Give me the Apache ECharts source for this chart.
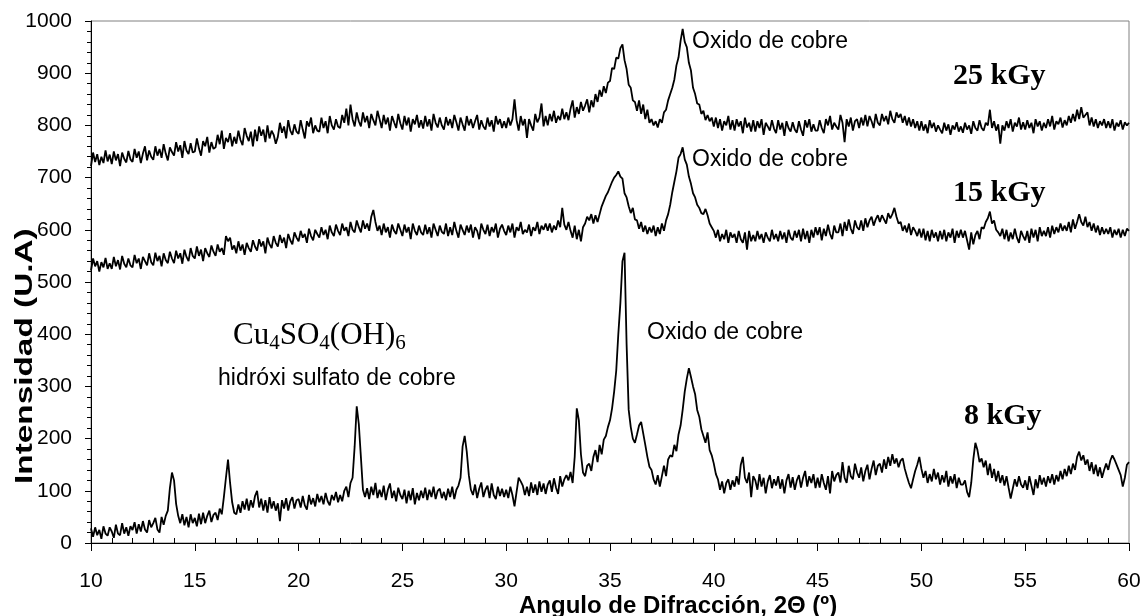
<!DOCTYPE html>
<html>
<head>
<meta charset="utf-8">
<script src="https://cdn.jsdelivr.net/npm/echarts@6/dist/echarts.min.js"></script>
<style>html,body{margin:0;padding:0;background:#fff;}#c{width:1145px;height:616px;}</style>
</head>
<body>
<div id="c"></div>
<script>
// Diffraction angle grid (2Θ, degrees): first angle and step of the scan
const ANGLE_START = 10;
const ANGLE_STEP = 0.1;

// Intensity (U.A), one row per degree (10.0 ... 59.9), last value at 60.0
const int25kGy = [
722,748,730,745,724,740,728,752,731,744,
726,750,733,745,722,748,736,729,751,735,
730,755,738,750,728,746,760,733,752,740,
734,760,742,755,738,764,746,733,758,749,
742,768,750,762,738,770,752,745,766,748,
750,775,756,742,770,760,778,748,768,755,
758,782,764,790,755,776,768,785,760,778,
765,790,772,762,795,780,770,788,760,792,
770,798,780,792,768,800,775,790,782,765,
778,805,786,798,775,810,790,782,802,788,
784,810,792,775,808,798,815,785,800,790,
788,815,795,808,785,818,800,792,812,798,
795,820,805,832,800,840,812,798,825,808,
798,825,806,818,795,822,810,800,828,812,
795,820,802,815,790,818,806,795,822,804,
792,818,800,815,788,812,802,820,796,810,
794,818,798,812,790,822,805,796,815,800,
792,816,800,812,795,820,806,790,815,802,
790,818,800,812,795,808,820,792,810,798,
792,815,798,810,788,818,802,812,795,808,
795,815,800,812,850,810,790,818,800,812,
776,812,800,790,822,806,815,842,798,818,
800,822,808,828,805,818,810,832,812,825,
810,832,848,815,835,822,845,828,838,850,
825,848,835,860,845,868,855,875,862,882,
885,910,908,930,928,948,955,925,908,878,
872,848,845,828,848,822,840,812,830,805,
812,800,808,796,812,805,825,830,848,860,
872,888,915,930,962,985,960,950,920,905,
872,860,842,840,822,828,810,820,808,815,
798,815,795,812,790,808,800,818,792,810,
790,812,798,808,785,815,796,805,788,810,
788,808,795,812,782,805,798,790,810,794,
785,810,792,805,780,808,795,788,806,792,
786,808,792,780,810,796,812,788,802,790,
790,810,795,785,812,800,818,792,805,798,
792,820,805,768,812,798,815,790,808,812,
795,815,800,820,798,818,808,795,822,805,
800,822,808,818,802,828,812,805,825,815,
822,805,818,800,815,798,812,795,808,790,
808,790,802,785,810,795,805,788,800,792,
785,805,790,802,782,800,792,806,788,798,
786,805,792,800,784,808,795,790,810,795,
790,805,800,830,795,808,790,802,765,800,
790,808,795,812,788,805,798,815,792,806,
792,810,795,805,785,812,798,808,790,805,
795,812,798,818,792,808,802,815,796,810,
800,818,805,822,808,830,812,835,815,820,
825,800,815,798,812,795,808,800,812,795,
808,795,812,790,805,798,810,792,806,800,
805];

const int15kGy = [
522,545,530,540,520,538,528,546,525,536,
525,548,530,542,524,550,535,528,545,532,
528,552,536,545,525,548,540,532,555,538,
532,556,540,550,530,555,542,536,558,545,
536,560,545,555,535,562,548,540,565,550,
545,568,550,562,540,565,555,548,570,558,
550,572,558,565,552,588,578,585,562,570,
555,578,560,572,552,575,565,558,580,568,
560,582,568,578,555,585,572,565,588,575,
568,590,575,585,565,592,580,572,595,585,
578,598,585,592,575,602,588,580,600,592,
585,605,590,600,582,608,595,588,610,598,
590,612,598,605,588,615,600,595,618,605,
595,618,602,612,598,625,638,615,598,608,
590,612,595,605,585,610,598,592,612,600,
588,610,595,605,582,612,598,590,608,595,
590,610,592,605,585,612,600,588,608,596,
592,612,588,605,590,615,598,585,610,600,
590,608,595,610,585,605,598,582,612,600,
592,610,588,605,595,612,585,602,610,598,
590,608,595,612,585,605,598,615,592,600,
595,610,588,605,598,615,592,608,600,612,
598,612,595,608,600,618,605,642,610,600,
615,598,585,608,582,600,578,605,612,625,
618,630,612,628,615,630,645,655,665,672,
682,692,700,705,712,702,698,670,662,645,
632,642,620,618,602,615,596,608,592,605,
595,608,588,605,592,612,598,618,630,648,
672,692,712,738,745,758,735,725,702,688,
670,662,648,642,632,630,640,628,612,605,
598,585,600,578,592,582,600,575,595,585,
592,575,598,582,575,595,562,598,578,590,
578,598,582,592,575,595,585,578,600,582,
592,578,598,582,595,575,600,585,580,598,
585,600,578,602,582,598,575,600,585,605,
590,605,580,602,588,610,592,582,608,595,
595,612,588,615,598,620,602,592,618,605,
600,618,598,622,605,618,625,608,620,628,
615,628,620,612,632,622,630,642,625,612,
615,598,608,595,612,590,605,598,588,602,
585,602,580,598,578,600,585,595,578,598,
582,600,578,595,585,602,575,598,585,600,
585,598,580,562,595,572,590,598,582,605,
602,615,622,635,612,618,600,595,588,602,
582,600,578,595,582,602,585,575,598,588,
580,598,575,602,585,600,578,605,588,598,
588,605,585,608,592,605,595,612,598,608,
598,615,595,620,602,615,630,615,608,625,
605,615,598,612,595,608,590,605,592,602,
592,605,585,600,590,602,585,600,588,602,
598];

const int8kGy = [
28,12,30,15,25,8,32,18,14,30,
22,10,35,18,15,38,18,30,14,32,
25,40,18,36,22,42,26,20,44,30,
38,48,26,20,50,35,52,62,105,135,
120,75,52,38,55,34,50,30,55,38,
48,32,56,36,58,38,52,62,40,54,
58,44,66,55,88,125,160,115,78,58,
55,74,58,80,64,85,62,82,68,90,
100,68,85,62,82,58,88,66,80,62,
76,42,82,66,86,62,80,88,66,82,
84,68,90,72,64,92,74,86,70,94,
78,90,74,96,80,72,92,82,98,78,
92,80,100,108,88,115,125,185,262,228,
165,102,88,105,84,108,92,115,86,102,
88,110,82,102,114,86,100,80,106,92,
84,102,76,100,82,105,74,96,82,100,
86,106,82,102,88,108,84,100,104,86,
98,82,104,88,108,84,102,110,125,185,
205,175,130,102,92,112,86,104,116,88,
102,110,86,114,92,84,108,90,104,88,
102,86,108,92,70,98,125,118,110,92,
108,90,116,96,112,92,118,98,114,94,
112,120,98,124,106,94,128,108,122,130,
120,136,115,165,258,235,170,135,128,148,
152,138,165,178,155,188,170,198,205,222,
235,258,290,330,400,460,540,556,380,255,
222,200,192,208,225,232,210,188,165,146,
140,122,112,130,108,128,148,128,160,168,
165,188,176,208,225,255,290,315,335,318,
300,285,255,242,218,205,192,212,178,168,
152,132,122,102,118,95,115,122,102,120,
108,128,112,150,165,125,115,135,88,128,
120,102,132,108,125,95,118,130,105,122,
110,128,104,122,95,120,132,106,126,102,
120,130,106,125,138,108,128,115,132,105,
125,106,132,115,102,128,95,138,118,130,
135,116,155,125,115,148,128,122,152,135,
125,145,118,138,150,122,142,158,130,148,
152,135,160,142,165,148,170,152,162,145,
158,162,142,128,115,105,122,138,150,165,
142,125,138,115,132,118,142,122,135,112,
130,116,138,108,128,114,132,105,125,112,
112,120,98,88,115,160,192,178,155,162,
145,158,130,152,125,142,118,138,115,130,
110,128,106,85,104,122,108,128,112,106,
120,102,128,110,92,122,105,130,112,125,
108,128,115,132,112,130,118,138,122,142,
128,148,132,152,140,165,175,158,168,150,
160,138,155,132,150,128,145,125,140,152,
140,158,168,160,150,140,130,108,125,150,
155];

const xTicks = [10, 15, 20, 25, 30, 35, 40, 45, 50, 55, 60];
const yTicks = [0, 100, 200, 300, 400, 500, 600, 700, 800, 900, 1000];

function pairs(vals) {
  return vals.map((v, i) => [+(ANGLE_START + i * ANGLE_STEP).toFixed(2), v]);
}

const chart = echarts.init(document.getElementById('c'), null, {renderer: 'canvas'});
const SANS = 'Liberation Sans, Arial, sans-serif';
const SERIF = 'Liberation Serif, Times New Roman, serif';

const lineSeries = (name, vals) => ({
  name, type: 'line', data: pairs(vals), showSymbol: false, symbol: 'none',
  lineStyle: {color: '#000', width: 1.8}, itemStyle: {color: '#000'},
  animation: false, silent: true, clip: true
});

chart.setOption({
  animation: false,
  backgroundColor: '#fff',
  grid: {left: 91, right: 16, top: 21, bottom: 73, show: true, borderColor: '#808080', borderWidth: 1, backgroundColor: 'transparent'},
  xAxis: [{
    type: 'value', min: xTicks[0], max: xTicks[xTicks.length - 1], interval: 5,
    axisLine: {show: true, onZero: false, lineStyle: {color: '#000', width: 1}},
    axisTick: {show: true, length: 8, lineStyle: {color: '#000'}},
    minorTick: {show: false},
    splitLine: {show: false},
    axisLabel: {color: '#000', fontFamily: SANS, fontSize: 21, margin: 28, formatter: v => String(v)}
  }, {
    type: 'value', min: xTicks[0], max: xTicks[xTicks.length - 1], interval: 5, position: 'bottom',
    axisLine: {show: false},
    axisTick: {show: false, inside: true},
    minorTick: {show: true, splitNumber: 5, length: 5, lineStyle: {color: '#000'}},
    splitLine: {show: false},
    axisLabel: {show: false}
  }],
  yAxis: {
    type: 'value', min: yTicks[0], max: yTicks[yTicks.length - 1], interval: 100,
    axisLine: {show: true, onZero: false, lineStyle: {color: '#000', width: 1}},
    axisTick: {show: true, length: 6, lineStyle: {color: '#000'}},
    minorTick: {show: true, splitNumber: 5, length: 4, lineStyle: {color: '#000'}},
    splitLine: {show: false},
    axisLabel: {color: '#000', fontFamily: SANS, fontSize: 21, margin: 19, formatter: v => String(v)}
  },
  series: [
    lineSeries('25 kGy', int25kGy),
    lineSeries('15 kGy', int15kGy),
    lineSeries('8 kGy', int8kGy)
  ],
  graphic: [
    {type: 'text', left: 692, top: 30, style: {text: 'Oxido de cobre', fill: '#000', font: '23px ' + SANS}},
    {type: 'text', left: 692, top: 148, style: {text: 'Oxido de cobre', fill: '#000', font: '23px ' + SANS}},
    {type: 'text', left: 647, top: 321, style: {text: 'Oxido de cobre', fill: '#000', font: '23px ' + SANS}},
    {type: 'text', left: 218, top: 367, style: {text: 'hidróxi sulfato de cobre', fill: '#000', font: '23px ' + SANS}},
    {type: 'text', left: 233, top: 320, style: {
      text: '{a|Cu}{s|4}{a|SO}{s|4}{a|(OH)}{s|6}', fill: '#000',
      rich: {
        a: {fontSize: 31, fontFamily: SERIF, lineHeight: 36, fill: '#000'},
        s: {fontSize: 21, fontFamily: SERIF, lineHeight: 22, verticalAlign: 'bottom', fill: '#000'}
      }
    }},
    {type: 'text', left: 953, top: 61, style: {text: '25 kGy', fill: '#000', font: 'bold 30px ' + SERIF}},
    {type: 'text', left: 953, top: 178, style: {text: '15 kGy', fill: '#000', font: 'bold 30px ' + SERIF}},
    {type: 'text', left: 964, top: 401, style: {text: '8 kGy', fill: '#000', font: 'bold 30px ' + SERIF}},
    {type: 'text', left: 519, top: 594, style: {text: 'Angulo de Difracción, 2Θ (º)', fill: '#000', font: 'bold 24px ' + SANS}},
    {type: 'text', x: 14, y: 484, rotation: Math.PI / 2, scaleX: 1.45, style: {text: 'Intensidad (U.A)', fill: '#000', font: 'bold 23px ' + SANS, textAlign: 'left', textVerticalAlign: 'top'}}
  ]
});
</script>
</body>
</html>
